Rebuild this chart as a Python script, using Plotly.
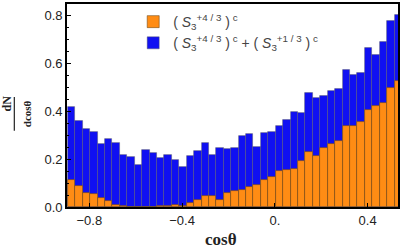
import plotly.graph_objects as go

# ---- data ----
bin_left = -0.892
bin_width = 0.032

total_vals = [0.417, 0.357, 0.324, 0.315, 0.264, 0.285, 0.267, 0.219, 0.207, 0.175,
              0.238, 0.224, 0.204, 0.219, 0.198, 0.169, 0.212, 0.234, 0.266, 0.219,
              0.248, 0.244, 0.248, 0.295, 0.303, 0.252, 0.307, 0.314, 0.340, 0.365,
              0.395, 0.391, 0.476, 0.456, 0.463, 0.486, 0.492, 0.570, 0.550, 0.558,
              0.665, 0.635, 0.687, 0.776, 0.800]

s43_vals = [0.114, 0.086, 0.058, 0.054, 0.038, 0.024, 0.010, 0.005, 0.0, 0.0,
            0.0, 0.0, 0.005, 0.005, 0.009, 0.005, 0.018, 0.029, 0.045, 0.045,
            0.031, 0.059, 0.067, 0.070, 0.084, 0.091, 0.112, 0.127, 0.152, 0.156,
            0.160, 0.193, 0.231, 0.211, 0.248, 0.263, 0.277, 0.338, 0.336, 0.354,
            0.406, 0.420, 0.433, 0.495, 0.524]

x_tickvals = [-0.8, -0.4, 0.0, 0.4]
x_ticktext = ["\u22120.8", "\u22120.4", "0.", "0.4"]
y_tickvals = [0.0, 0.2, 0.4, 0.6, 0.8]
y_ticktext = ["0.0", "0.2", "0.4", "0.6", "0.8"]

name_orange = "( <i>S</i><sub>3</sub><sup>+4 / 3</sup> )<sup> c</sup>"
name_blue = ("( <i>S</i><sub>3</sub><sup>+4 / 3</sup> )<sup> c</sup> + "
             "( <i>S</i><sub>3</sub><sup>+1 / 3</sup> )<sup> c</sup>")

centers = [bin_left + (i + 0.5) * bin_width for i in range(len(total_vals))]

fig = go.Figure()
fig.add_trace(go.Bar(
    x=centers, y=total_vals, width=bin_width, name=name_blue, legendrank=2,
    marker=dict(color="#1010F2", line=dict(color="rgba(90,90,90,0.55)", width=0.8)),
))
fig.add_trace(go.Bar(
    x=centers, y=s43_vals, width=bin_width, name=name_orange, legendrank=1,
    marker=dict(color="#FF8C14", line=dict(color="rgba(110,70,20,0.7)", width=0.8)),
))

serif = "Liberation Serif, Times New Roman, serif"

fig.update_layout(
    width=402, height=252,
    margin=dict(l=67, r=2, t=2, b=45),
    paper_bgcolor="white", plot_bgcolor="white",
    barmode="overlay", bargap=0,
    font=dict(family="Liberation Sans, Arial, sans-serif", size=13, color="#222"),
    legend=dict(x=0.20, y=0.99, xanchor="left", yanchor="top",
                bgcolor="rgba(0,0,0,0)", font=dict(size=14, color="#444"),
                tracegroupgap=3),
    xaxis=dict(range=[-0.896, 0.531], tickvals=x_tickvals, ticktext=x_ticktext,
               ticks="inside", ticklen=4, tickwidth=1.3, tickcolor="black",
               showline=True, linecolor="black", linewidth=1.8, mirror=True,
               showgrid=False, zeroline=False),
    yaxis=dict(range=[0, 0.847], tickvals=y_tickvals, ticktext=y_ticktext,
               ticks="inside", ticklen=4, tickwidth=1.3, tickcolor="black",
               minor=dict(dtick=0.05, ticks="inside", ticklen=2, tickcolor="black", showgrid=False),
               showline=True, linecolor="black", linewidth=1.8, mirror=True,
               showgrid=False, zeroline=False),
    annotations=[
        dict(text="<b>cos\u03b8</b>", xref="paper", yref="paper",
             x=(222 - 67) / 333, y=-(240 - 207) / 205, xanchor="center", yanchor="middle",
             showarrow=False, font=dict(family=serif, size=17, color="#222")),
        dict(text="<b>dN</b>", xref="paper", yref="paper", textangle=-90,
             x=-(67 - 7) / 333, y=(207 - 102) / 205, xanchor="center", yanchor="middle",
             showarrow=False, font=dict(family=serif, size=12, color="#222")),
        dict(text="<b>dcos\u03b8</b>", xref="paper", yref="paper", textangle=-90,
             x=-(67 - 27) / 333, y=(207 - 113) / 205, xanchor="center", yanchor="middle",
             showarrow=False, font=dict(family=serif, size=11, color="#222")),
    ],
    shapes=[
        dict(type="line", xref="paper", yref="paper",
             x0=-(67 - 14) / 333, x1=-(67 - 14) / 333,
             y0=(207 - 96) / 205, y1=(207 - 130) / 205,
             line=dict(color="#222", width=1.2)),
    ],
)

fig.write_html("out.html", config={"displayModeBar": False},
               post_script="document.body.style.margin='0';document.body.style.padding='0';")
